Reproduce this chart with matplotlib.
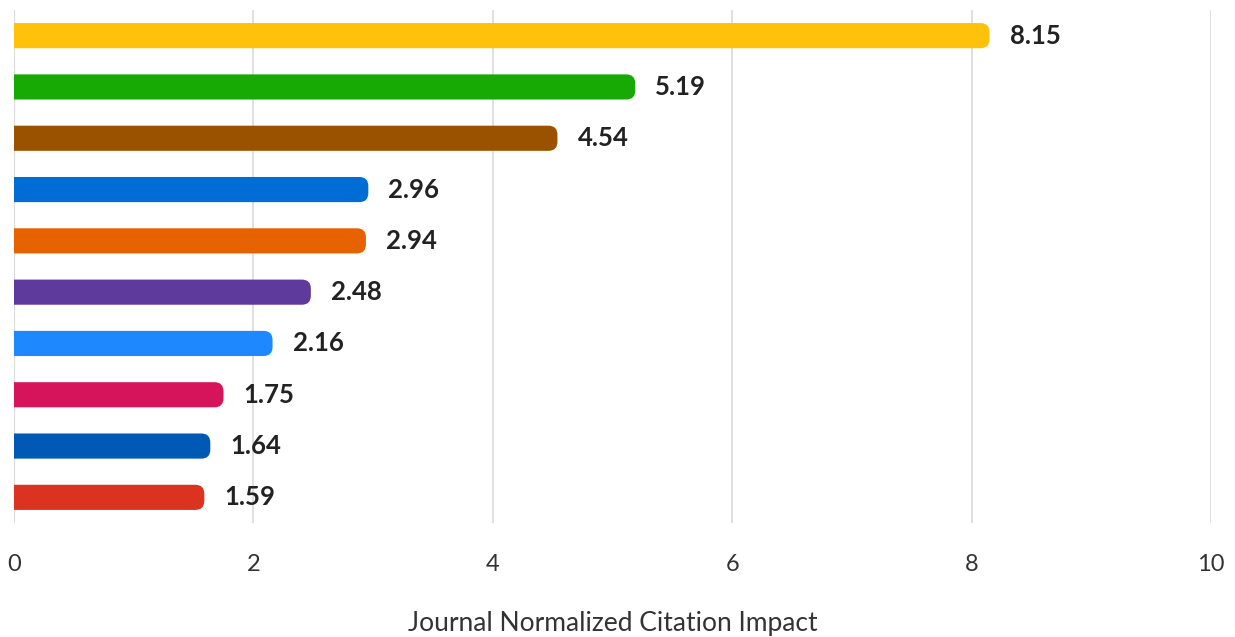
import matplotlib
matplotlib.use("Agg")
import matplotlib.pyplot as plt
from matplotlib.patches import FancyBboxPatch

values = [8.15, 5.19, 4.54, 2.96, 2.94, 2.48, 2.16, 1.75, 1.64, 1.59]
labels = ["8.15", "5.19", "4.54", "2.96", "2.94", "2.48", "2.16", "1.75", "1.64", "1.59"]
colors = ["#FFC10A", "#17AA05", "#9A5100", "#006CD6", "#E66100",
          "#5D3A9B", "#1E88FF", "#D6145C", "#005AB5", "#DC3220"]
xticks = [0, 2, 4, 6, 8, 10]
xlabel = "Journal Normalized Citation Impact"

plt.rcParams['font.family'] = ['Lato', 'DejaVu Sans']

fig = plt.figure(figsize=(12.35, 6.37), dpi=100)
ax = fig.add_axes([14/1235, 1 - 523/637, (1211 - 14)/1235, (523 - 10)/637])
ax.set_xlim(0, 10)
ax.set_ylim(len(values) - 0.5, -0.5)

# pixel scales
bbox = ax.get_window_extent()
px_per_x = bbox.width / 10.0
px_per_y = bbox.height / len(values)
aspect = px_per_x / px_per_y
r_px = 9
r = r_px / px_per_x
h = 0.49

for i, (v, c, lab) in enumerate(zip(values, colors, labels)):
    start = -0.3
    p = FancyBboxPatch((start, i - h / 2), v - start, h,
                       boxstyle=f"round,pad=0,rounding_size={r}",
                       mutation_aspect=aspect,
                       facecolor=c, edgecolor="none", zorder=3, clip_on=True)
    ax.add_patch(p)
    ax.text(v + 20 / px_per_x, i, lab, va="center", ha="left",
            fontsize=18.5, fontweight="bold", color="#222222", zorder=4)

ax.set_xticks(xticks)
ax.set_xticklabels([str(t) for t in xticks], fontsize=17, color="#333333")
ax.tick_params(axis="x", length=0, pad=22)
ax.set_yticks([])
ax.grid(axis="x", color="#dddddd", linewidth=1.3, zorder=0)
ax.axvline(0, color="#c8c8c8", linewidth=1.5, zorder=1)
for s in ax.spines.values():
    s.set_visible(False)
ax.set_xlabel(xlabel, fontsize=19, color="#333333", labelpad=26)

fig.savefig("out.png", dpi=100)
